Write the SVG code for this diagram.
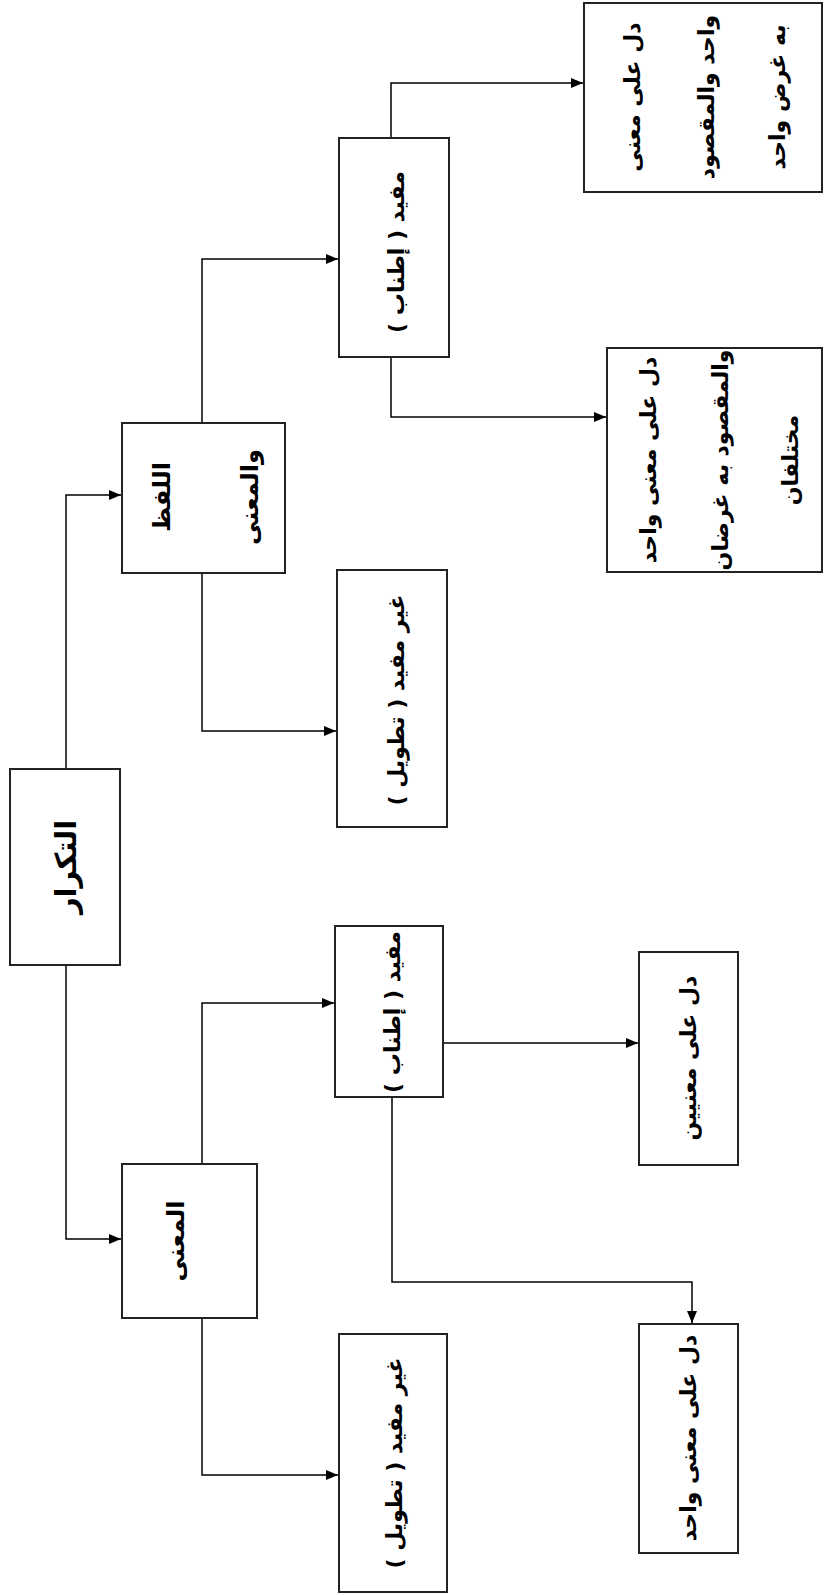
<svg xmlns="http://www.w3.org/2000/svg" width="824" height="1595" viewBox="0 0 824 1595">
<style>
.box{fill:#fff;stroke:#222;stroke-width:2}
.t{font-family:"DejaVu Sans",sans-serif;font-weight:bold;font-size:22px;fill:#000;text-anchor:middle;dominant-baseline:central}
.c{fill:none;stroke:#000;stroke-width:1.5;marker-end:url(#ah)}
</style>
<defs>
<marker id="ah" markerUnits="userSpaceOnUse" markerWidth="12" markerHeight="10" refX="12" refY="5" orient="auto">
<path d="M0,0 L12,5 L0,10 z" fill="#000"/>
</marker>
</defs>
<rect width="824" height="1595" fill="#fff"/>
<g id="connectors">
<path class="c" d="M66,769 V495 H121"/>
<path class="c" d="M66,965 V1239 H121"/>
<path class="c" d="M202,423 V259 H338"/>
<path class="c" d="M202,573 V731 H336"/>
<path class="c" d="M391,138 V83 H583"/>
<path class="c" d="M391,357 V417 H606"/>
<path class="c" d="M202,1164 V1003 H334"/>
<path class="c" d="M202,1318 V1475 H338"/>
<path class="c" d="M443,1043 H638"/>
<path class="c" d="M392,1097 V1282 H692 V1323"/>
</g>
<g id="root">
<rect class="box" x="10" y="769" width="110" height="196"/>
<text class="t" direction="rtl" style="font-size:29px" transform="translate(66,867) rotate(-90)">التكرار</text>
</g>
<g id="lafz">
<rect class="box" x="122" y="423" width="163" height="150"/>
<text class="t" direction="rtl" style="font-size:24px" transform="translate(162,497) rotate(-90)">اللفظ</text>
<text class="t" direction="rtl" style="font-size:24px" transform="translate(250,497) rotate(-90)">والمعنى</text>
</g>
<g id="mufid1">
<rect class="box" x="339" y="138" width="110" height="219"/>
<text class="t" direction="rtl" transform="translate(396,252) rotate(-90)">مفيد ( إطناب )</text>
</g>
<g id="wahid_gharad">
<rect class="box" x="584" y="3" width="238" height="189"/>
<text class="t" direction="rtl" transform="translate(632,97) rotate(-90)">دل على معنى</text>
<text class="t" direction="rtl" transform="translate(706,97) rotate(-90)">واحد والمقصود</text>
<text class="t" direction="rtl" transform="translate(777,97) rotate(-90)">به غرض واحد</text>
</g>
<g id="gharadan">
<rect class="box" x="607" y="348" width="215" height="224"/>
<text class="t" direction="rtl" transform="translate(648,460) rotate(-90)">دل على معنى واحد</text>
<text class="t" direction="rtl" transform="translate(720,460) rotate(-90)">والمقصود به غرضان</text>
<text class="t" direction="rtl" transform="translate(790,460) rotate(-90)">مختلفان</text>
</g>
<g id="ghayr1">
<rect class="box" x="337" y="570" width="110" height="257"/>
<text class="t" direction="rtl" transform="translate(396,700) rotate(-90)">غير مفيد ( تطويل )</text>
</g>
<g id="mana">
<rect class="box" x="122" y="1164" width="135" height="154"/>
<text class="t" direction="rtl" style="font-size:24px" transform="translate(176,1241) rotate(-90)">المعنى</text>
</g>
<g id="mufid2">
<rect class="box" x="335" y="926" width="108" height="171"/>
<text class="t" direction="rtl" transform="translate(392,1012) rotate(-90)">مفيد ( إطناب )</text>
</g>
<g id="manayayn">
<rect class="box" x="639" y="952" width="99" height="213"/>
<text class="t" direction="rtl" transform="translate(688,1058) rotate(-90)">دل على معنيين</text>
</g>
<g id="mana_wahid">
<rect class="box" x="639" y="1324" width="99" height="229"/>
<text class="t" direction="rtl" transform="translate(688,1438) rotate(-90)">دل على معنى واحد</text>
</g>
<g id="ghayr2">
<rect class="box" x="339" y="1334" width="108" height="258"/>
<text class="t" direction="rtl" transform="translate(394,1463) rotate(-90)">غير مفيد ( تطويل )</text>
</g>
</svg>
